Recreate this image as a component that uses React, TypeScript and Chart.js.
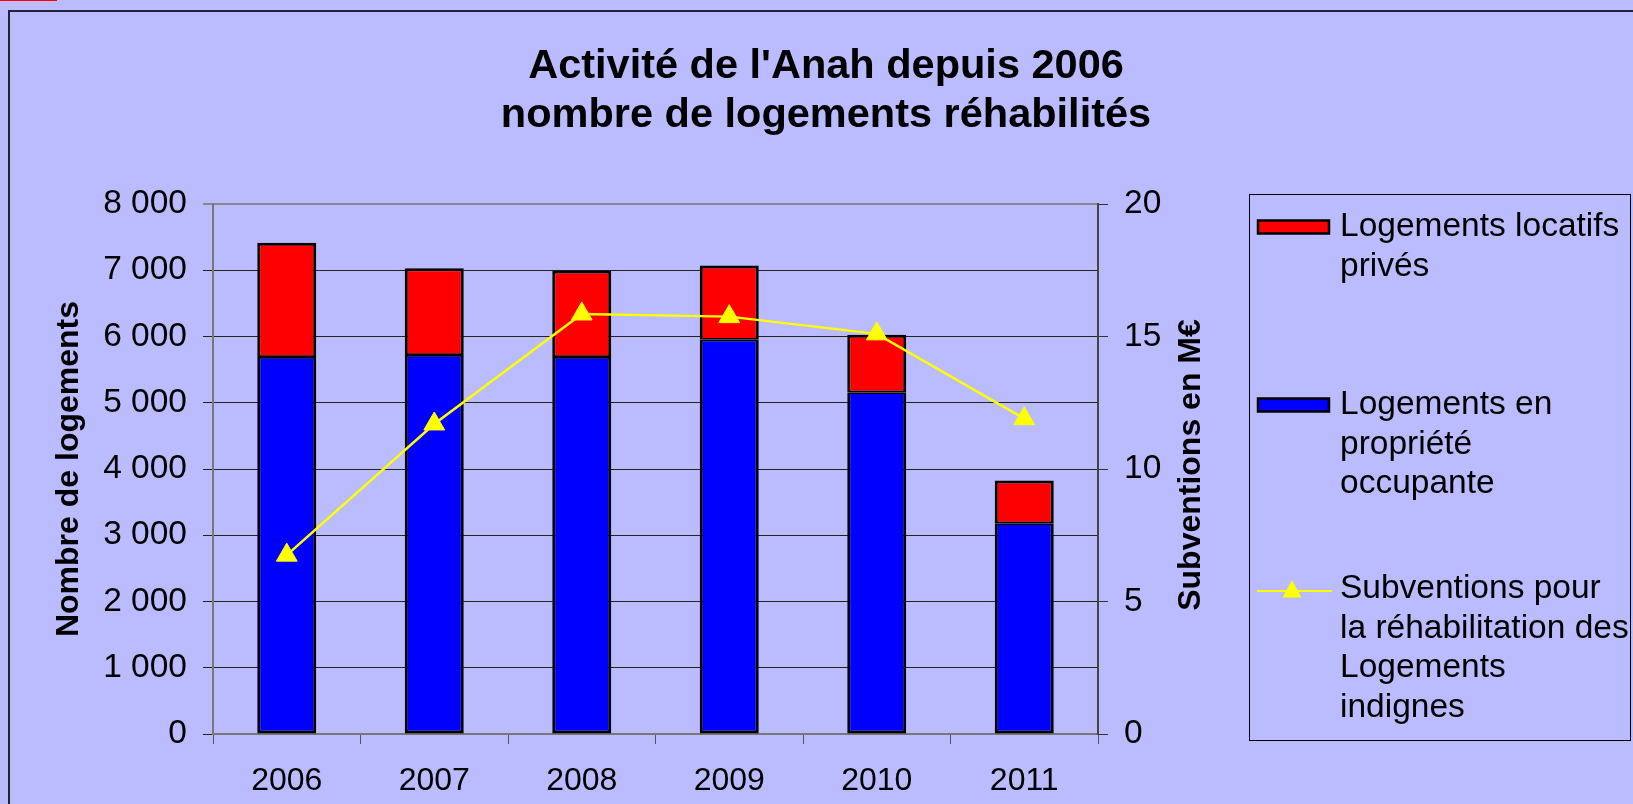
import React, { useEffect, useRef } from "react";
import { Chart, registerables } from "chart.js";

Chart.register(...registerables);

const years = ["2006", "2007", "2008", "2009", "2010", "2011"];
const proprieteOccupante = [5690, 5720, 5690, 5950, 5160, 3180];
const locatifsPrives = [1725, 1310, 1305, 1120, 865, 645];
const subventions = [6.75, 11.7, 15.85, 15.75, 15.1, 11.9];

const titleLines = ["Activité de l'Anah depuis 2006", "nombre de logements réhabilités"];
const leftAxisTitle = "Nombre de logements";
const rightAxisTitle = "Subventions en M€";
const legendRed = ["Logements locatifs", "privés"];
const legendBlue = ["Logements en", "propriété", "occupante"];
const legendLine = ["Subventions pour", "la réhabilitation des", "Logements", "indignes"];

const FONT = "'Liberation Sans', Arial, Helvetica, sans-serif";
const BG = "#BBBBFF";
const RED = "#FF0000";
const BLUE = "#0000FF";
const YELLOW = "#FFFF00";

const fmt = (v: number) => String(v).replace(/\B(?=(\d{3})+(?!\d))/g, " ");

const decorPlugin = {
  id: "decor",
  beforeDraw(chart: any) {
    const ctx = chart.ctx;
    ctx.save();
    ctx.fillStyle = BG;
    ctx.fillRect(0, 0, chart.width, chart.height);
    ctx.fillStyle = RED;
    ctx.fillRect(0, 0, 57, 1);
    ctx.strokeStyle = "#22223A";
    ctx.lineWidth = 2;
    ctx.strokeRect(9, 11, chart.width + 20, chart.height + 20);
    ctx.restore();
  },
  afterDraw(chart: any) {
    const ctx = chart.ctx;
    const area = chart.chartArea;
    ctx.save();
    ctx.fillStyle = "#000";
    ctx.font = `bold 32px ${FONT}`;
    ctx.textAlign = "center";
    ctx.textBaseline = "middle";
    ctx.translate(1191, (area.top + area.bottom) / 2 - 4);
    ctx.rotate(-Math.PI / 2);
    ctx.fillText(rightAxisTitle, 0, 0);
    ctx.restore();

    // legend
    ctx.save();
    const bx = 1249.5, by = 194.5, bw = 381, bh = 546;
    ctx.strokeStyle = "#000";
    ctx.lineWidth = 1;
    ctx.strokeRect(bx, by, bw, bh);
    const textX = 1340;
    const lh = 39.5;
    ctx.font = `33.5px ${FONT}`;
    ctx.fillStyle = "#000";
    ctx.textBaseline = "middle";
    ctx.textAlign = "left";
    const drawLines = (lines: string[], y0: number) => {
      lines.forEach((t, i) => ctx.fillText(t, textX, y0 + i * lh));
    };
    const swX = 1258, swW = 71, swH = 13;
    const y1 = 227, y2 = 405, y3 = 589;
    ctx.lineWidth = 2.5;
    ctx.fillStyle = RED;
    ctx.fillRect(swX, y1 - swH / 2, swW, swH);
    ctx.strokeStyle = "#000";
    ctx.strokeRect(swX, y1 - swH / 2, swW, swH);
    ctx.fillStyle = BLUE;
    ctx.fillRect(swX, y2 - swH / 2, swW, swH);
    ctx.strokeRect(swX, y2 - swH / 2, swW, swH);
    ctx.strokeStyle = YELLOW;
    ctx.lineWidth = 2;
    ctx.beginPath();
    ctx.moveTo(1257, y3 + 2);
    ctx.lineTo(1332, y3 + 2);
    ctx.stroke();
    ctx.fillStyle = YELLOW;
    const tx = 1292, r = 11;
    ctx.beginPath();
    ctx.moveTo(tx, y3 + 2 - r);
    ctx.lineTo(tx + r * 0.866, y3 + 2 + r / 2 + 1);
    ctx.lineTo(tx - r * 0.866, y3 + 2 + r / 2 + 1);
    ctx.closePath();
    ctx.fill();
    ctx.fillStyle = "#000";
    drawLines(legendRed, y1);
    drawLines(legendBlue, y2);
    drawLines(legendLine, y3);
    ctx.restore();
  },
};

export default function App() {
  const canvasRef = useRef<HTMLCanvasElement | null>(null);

  useEffect(() => {
    document.body.style.margin = "0";
    const canvas = canvasRef.current;
    if (!canvas) return;
    const barCommon = {
      borderColor: "#000",
      borderSkipped: false,
      categoryPercentage: 1,
      barPercentage: 0.4,
      stack: "s",
      yAxisID: "y",
      order: 1,
    };
    const chart = new Chart(canvas, {
      type: "bar",
      data: {
        labels: years,
        datasets: [
          {
            type: "bar",
            label: "Logements en propriété occupante",
            data: proprieteOccupante,
            backgroundColor: BLUE,
            borderWidth: { top: 1.75, left: 3, right: 3, bottom: 3 },
            ...barCommon,
          } as any,
          {
            type: "bar",
            label: "Logements locatifs privés",
            data: locatifsPrives,
            backgroundColor: RED,
            borderWidth: { top: 3, left: 3, right: 3, bottom: 1.75 },
            ...barCommon,
          } as any,
          {
            type: "line",
            label: "Subventions pour la réhabilitation des Logements indignes",
            data: subventions,
            borderColor: YELLOW,
            borderWidth: 2.5,
            backgroundColor: YELLOW,
            pointStyle: "triangle",
            pointRadius: 12,
            pointBackgroundColor: YELLOW,
            pointBorderColor: YELLOW,
            pointBorderWidth: 1,
            tension: 0,
            yAxisID: "y1",
            order: 0,
          } as any,
        ],
      },
      options: {
        responsive: false,
        animation: false,
        layout: { padding: { left: 19, right: 0, top: 0, bottom: 0 } },
        plugins: {
          legend: { display: false },
          tooltip: { enabled: false },
          title: {
            display: true,
            text: titleLines,
            color: "#000",
            font: { family: FONT, size: 41.5, weight: "bold", lineHeight: 49 / 41.5 },
            padding: { top: 42, bottom: 64 },
          },
        },
        scales: {
          x: {
            stacked: true,
            offset: true,
            grid: {
              offset: true,
              drawOnChartArea: false,
              drawTicks: true,
              tickLength: 10,
              color: "#555",
              lineWidth: 1,
            },
            border: { display: true, color: "#777", width: 2 },
            ticks: {
              color: "#000",
              font: { family: FONT, size: 32 },
              padding: 18,
              maxRotation: 0,
            },
            afterFit: (s: any) => {
              s.height = 70;
            },
          },
          y: {
            stacked: true,
            position: "left",
            min: 0,
            max: 8000,
            ticks: {
              stepSize: 1000,
              color: "#000",
              font: { family: FONT, size: 33.5 },
              padding: 16,
              callback: (v: any) => fmt(Number(v)),
            },
            grid: {
              color: (c: any) => (c.tick && c.tick.value === 8000 ? "#888" : "#222"),
              lineWidth: (c: any) => (c.tick && c.tick.value === 8000 ? 2 : 1),
              tickLength: 10,
              drawTicks: true,
            },
            border: { display: true, color: "#777", width: 2 },
            title: {
              display: true,
              text: leftAxisTitle,
              color: "#000",
              font: { family: FONT, size: 32, weight: "bold" },
              padding: { top: 31, bottom: 0 },
            },
            afterFit: (s: any) => {
              s.width = 194;
            },
          },
          y1: {
            position: "right",
            min: 0,
            max: 20,
            ticks: {
              stepSize: 5,
              color: "#000",
              font: { family: FONT, size: 33.5 },
              padding: 16,
            },
            grid: {
              drawOnChartArea: false,
              drawTicks: true,
              tickLength: 10,
              color: "#333",
            },
            border: { display: true, color: "#444", width: 2 },
            afterFit: (s: any) => {
              s.width = 535;
            },
          },
        },
      } as any,
      plugins: [decorPlugin],
    });
    return () => chart.destroy();
  }, []);

  return (
    <div style={{ width: 1633, height: 804, overflow: "hidden" }}>
      <canvas ref={canvasRef} width={1633} height={804} style={{ display: "block" }} />
    </div>
  );
}
